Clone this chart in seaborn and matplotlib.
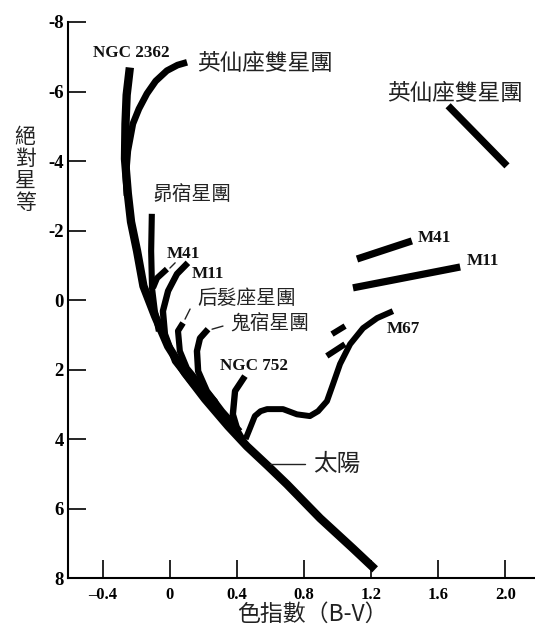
import matplotlib
matplotlib.use("Agg")
import matplotlib.pyplot as plt
import seaborn as sns

# Cluster tracks, as (B-V, absolute magnitude)
ngc2362_bv = [-0.239, -0.258, -0.265, -0.268, -0.251, -0.232, -0.196, -0.158, -0.089, -0.011,
              0.090, 0.209, 0.347, 0.459, 0.585, 0.697, 0.895, 1.091, 1.223]
ngc2362_mv = [-6.69, -5.90, -5.07, -4.06, -3.06, -2.25, -1.41, -0.40, 0.46, 1.33,
              2.10, 2.85, 3.63, 4.21, 4.78, 5.30, 6.28, 7.15, 7.75]

hchi_bv = [0.102, 0.045, -0.018, -0.085, -0.137, -0.185, -0.221, -0.251, -0.263, -0.256]
hchi_mv = [-6.84, -6.76, -6.60, -6.30, -5.94, -5.50, -5.07, -4.29, -3.57, -3.00]

pleiades_bv = [-0.108, -0.112, -0.107, -0.090, -0.066]
pleiades_mv = [-2.48, -1.41, -0.35, 0.32, 0.90]

m41_bv = [-0.018, -0.077, -0.101]
m41_mv = [-0.89, -0.63, -0.35]

m11_bv = [0.107, 0.042, -0.011, -0.042, -0.030, 0.030, 0.137, 0.238]
m11_mv = [-1.07, -0.75, -0.26, 0.32, 0.98, 1.76, 2.42, 2.91]

coma_bv = [0.078, 0.048, 0.059, 0.101, 0.179, 0.268, 0.312]
coma_mv = [0.66, 0.89, 1.47, 1.96, 2.42, 2.91, 3.40]

praesepe_bv = [0.227, 0.179, 0.161, 0.168, 0.220, 0.311, 0.417]
praesepe_mv = [0.84, 1.10, 1.47, 2.05, 2.62, 3.20, 3.78]

ngc752_bv = [0.447, 0.388, 0.375, 0.405, 0.450]
ngc752_mv = [2.19, 2.62, 3.29, 3.78, 4.15]

m67_bv = [0.451, 0.477, 0.506, 0.540, 0.579, 0.674, 0.757, 0.834, 0.883, 0.936,
          0.972, 1.014, 1.074, 1.151, 1.235, 1.329]
m67_mv = [4.00, 3.69, 3.34, 3.20, 3.14, 3.14, 3.29, 3.34, 3.20, 2.91,
          2.42, 1.84, 1.27, 0.81, 0.52, 0.32]

m67_sg1_bv = [0.966, 1.044]
m67_sg1_mv = [0.98, 0.75]
m67_sg2_bv = [0.935, 1.043]
m67_sg2_mv = [1.61, 1.27]

# red giant groups
hchi_giant_bv = [1.658, 2.009]
hchi_giant_mv = [-5.59, -3.86]
m41_giant_bv = [1.115, 1.442]
m41_giant_mv = [-1.18, -1.70]
m11_giant_bv = [1.091, 1.730]
m11_giant_mv = [-0.35, -0.95]

# thin pointer lines next to some labels
m41_lead_bv = [0.000, 0.031]
m41_lead_mv = [-0.92, -1.07]
coma_lead_bv = [0.120, 0.090]
coma_lead_mv = [0.26, 0.55]
praesepe_lead_bv = [0.251, 0.316]
praesepe_lead_mv = [0.84, 0.75]
sun_lead_bv = [0.597, 0.806]
sun_lead_mv = [4.73, 4.73]

xtick_vals = [-0.4, 0, 0.4, 0.8, 1.2, 1.6, 2.0]
xtick_labels = ["\u20130.4", "0", "0.4", "0.8", "1.2", "1.6", "2.0"]
ytick_vals = [-8, -6, -4, -2, 0, 2, 4, 6, 8]
ytick_labels = ["-8", "-6", "-4", "-2", "0", "2", "4", "6", "8"]

sns.set_theme(style="white")
plt.rcParams["font.family"] = ["Noto Sans CJK TC", "DejaVu Sans"]

fig = plt.figure(figsize=(5.35, 6.34), dpi=100)
ax = fig.add_axes([0.127, 0.0883, 0.873, 0.877])

tracks = [
    (ngc2362_bv, ngc2362_mv, 6.0),
    (hchi_bv, hchi_mv, 4.8),
    (pleiades_bv, pleiades_mv, 4.4),
    (m41_bv, m41_mv, 4.4),
    (m11_bv, m11_mv, 4.6),
    (coma_bv, coma_mv, 4.4),
    (praesepe_bv, praesepe_mv, 4.6),
    (ngc752_bv, ngc752_mv, 4.6),
    (m67_bv, m67_mv, 4.3),
    (m67_sg1_bv, m67_sg1_mv, 4.3),
    (m67_sg2_bv, m67_sg2_mv, 4.3),
    (hchi_giant_bv, hchi_giant_mv, 5.2),
    (m41_giant_bv, m41_giant_mv, 5.2),
    (m11_giant_bv, m11_giant_mv, 5.2),
]
for bv, mv, lw in tracks:
    sns.lineplot(x=bv, y=mv, sort=False, estimator=None, color="black",
                 linewidth=lw, solid_capstyle="butt", solid_joinstyle="round", ax=ax)

for bv, mv in [(m41_lead_bv, m41_lead_mv), (coma_lead_bv, coma_lead_mv),
               (praesepe_lead_bv, praesepe_lead_mv), (sun_lead_bv, sun_lead_mv)]:
    sns.lineplot(x=bv, y=mv, sort=False, estimator=None, color="#222222",
                 linewidth=1.0, ax=ax)

ax.set_xlim(-0.608, 2.176)
ax.set_ylim(8, -8)
sns.despine(ax=ax)
for side in ["left", "bottom"]:
    ax.spines[side].set_color("black")
    ax.spines[side].set_linewidth(1.5)

ax.set_xticks(xtick_vals)
ax.set_xticklabels(xtick_labels, fontfamily="Liberation Serif", fontweight="bold", fontsize=12)
ax.set_yticks(ytick_vals)
ax.set_yticklabels(ytick_labels, fontfamily="Liberation Serif", fontweight="bold", fontsize=13.5)
ax.tick_params(axis="both", direction="in", length=13, width=1.2, color="black",
               labelcolor="black", bottom=True, left=True)
ax.tick_params(axis="x", pad=6.5)
ax.tick_params(axis="y", pad=3.0)
ax.set_xlabel("")
ax.set_ylabel("")

latin = dict(fontfamily="Liberation Serif", fontweight="bold", fontsize=12.3,
             color="#111111", va="center", ha="left")
cjk_big = dict(fontfamily=["Noto Sans CJK TC", "DejaVu Sans"], fontsize=16.3,
               color="#222222", va="center", ha="left")
cjk = dict(fontfamily=["Noto Sans CJK TC", "DejaVu Sans"], fontsize=14.2,
           color="#222222", va="center", ha="left")

ax.text(-0.459, -7.12, "NGC 2362", **latin)
ax.text(0.161, -6.80, "英仙座雙星團", **cjk_big)
ax.text(1.294, -5.94, "英仙座雙星團", **cjk_big)
ax.text(-0.106, -3.05, "昴宿星團", **cjk)
ax.text(-0.018, -1.33, "M41", **latin)
ax.text(0.131, -0.75, "M11", **latin)
ax.text(0.161, -0.03, "后髮座星團", **cjk)
ax.text(0.358, 0.69, "鬼宿星團", **cjk)
ax.text(0.298, 1.90, "NGC 752", **latin)
ax.text(1.294, 0.84, "M67", **latin)
ax.text(0.854, 4.73, "太陽", **dict(cjk_big, fontsize=17))
ax.text(1.479, -1.79, "M41", **latin)
ax.text(1.771, -1.12, "M11", **latin)

fig.text(0.047, 0.732, "絕\n對\n星\n等", ha="center", va="center", fontsize=15,
         linespacing=1.0, color="#222222", family=["Noto Sans CJK TC", "DejaVu Sans"])
fig.text(0.583, 0.031, "色指數（B-V）", ha="center", va="center", fontsize=16.5,
         color="#222222", family=["Noto Sans CJK TC", "DejaVu Sans"])

fig.savefig("out.png", dpi=100)
